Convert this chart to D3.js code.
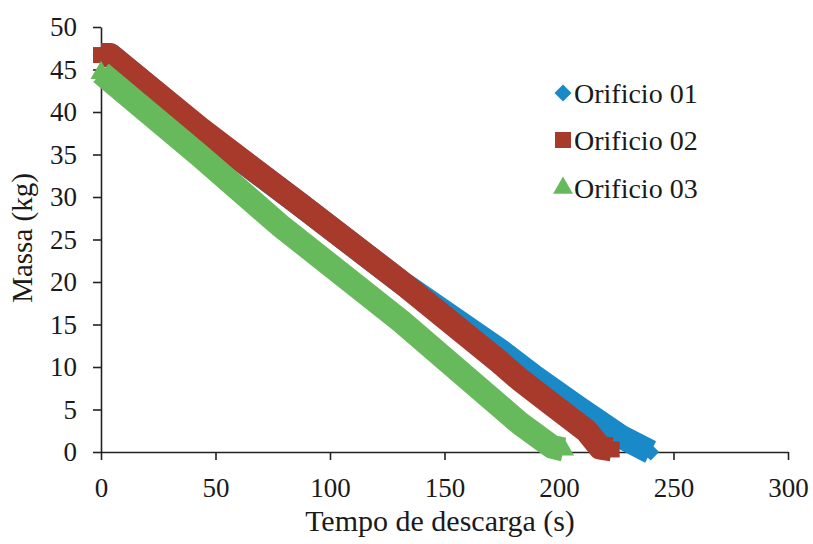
<!DOCTYPE html>
<html>
<head>
<meta charset="utf-8">
<script src="https://cdn.jsdelivr.net/npm/d3@7"></script>
<style>
  html, body { margin: 0; padding: 0; background: #ffffff; }
  svg { display: block; }
</style>
</head>
<body>
<svg id="chart" width="813" height="544"></svg>
<script>
// ---- data ----
const seriesNames = ["Orificio 01", "Orificio 02", "Orificio 03"];

const timeBlue  = [0, 4, 43, 87, 131, 174, 189, 208, 227, 240];
const massBlue  = [46.7, 46.7, 38.0, 29.1, 20.0, 12.0, 8.9, 5.3, 1.8, 0.0];

const timeRed   = [0, 4, 43, 87, 131, 174, 183, 197, 212, 218, 223];
const massRed   = [46.7, 46.7, 38.1, 29.1, 20.0, 10.6, 8.5, 5.6, 2.5, 0.5, 0.3];

const timeGreen = [0, 43, 78, 131, 183, 197, 202];
const massGreen = [44.6, 34.9, 26.7, 15.4, 3.35, 0.6, 0.3];

const xTicks = [0, 50, 100, 150, 200, 250, 300];
const yTicks = [0, 5, 10, 15, 20, 25, 30, 35, 40, 45, 50];

const xTitle = "Tempo de descarga (s)";
const yTitle = "Massa (kg)";

// ---- chart ----
const FONT = "Liberation Serif";
const TXT = "#1a1a1a";
const colors = ["#1A89C7", "#A83A2C", "#67BA5C"];

// square-ish diamond (Excel style)
const excelDiamond = {
  draw(ctx, size) {
    const r = Math.sqrt(size / 2);
    ctx.moveTo(0, -r); ctx.lineTo(r, 0); ctx.lineTo(0, r); ctx.lineTo(-r, 0); ctx.closePath();
  }
};
const symbols = [excelDiamond, d3.symbolSquare, d3.symbolTriangle];
const series = [
  { name: seriesNames[0], t: timeBlue,  m: massBlue,  color: colors[0], sym: symbols[0], size: 145 },
  { name: seriesNames[1], t: timeRed,   m: massRed,   color: colors[1], sym: symbols[1], size: 256 },
  { name: seriesNames[2], t: timeGreen, m: massGreen, color: colors[2], sym: symbols[2], size: 190 }
];

const svg = d3.select("#chart");
const x = d3.scaleLinear().domain([0, 300]).range([101, 788]);
const y = d3.scaleLinear().domain([0, 50]).range([452, 27]);

// axes
const xAxis = d3.axisBottom(x).tickValues(xTicks).tickSize(8).tickSizeOuter(0).tickPadding(18).tickFormat(d3.format("d"));
const yAxis = d3.axisLeft(y).tickValues(yTicks).tickSize(8).tickSizeOuter(0).tickPadding(16).tickFormat(d3.format("d"));

const gx = svg.append("g").attr("transform", `translate(0,${y(0)})`).call(xAxis);
const gy = svg.append("g").attr("transform", `translate(${x(0)},0)`).call(yAxis);
[gx, gy].forEach(g => {
  g.attr("font-family", FONT).attr("font-size", 27);
  g.select(".domain").attr("stroke", "#222").attr("stroke-width", 1.6);
  g.selectAll(".tick line").attr("stroke", "#222").attr("stroke-width", 1.6);
  g.selectAll(".tick text").attr("font-size", 27).attr("font-family", FONT).attr("fill", TXT);
});

// axis titles
svg.append("text")
  .attr("x", 440).attr("y", 531)
  .attr("text-anchor", "middle")
  .attr("font-family", FONT)
  .attr("font-size", 30)
  .attr("fill", TXT)
  .text(xTitle);

svg.append("text")
  .attr("transform", "translate(32,238) rotate(-90)")
  .attr("text-anchor", "middle")
  .attr("font-family", FONT)
  .attr("font-size", 29)
  .attr("fill", TXT)
  .text(yTitle);

// series: dense markers forming a thick band
const line = d3.line().x(d => x(d[0])).y(d => y(d[1]));
series.forEach(s => {
  const pts = s.t.map((t, i) => [t, s.m[i]]);
  const g = svg.append("g");
  g.append("path")
    .attr("d", line(pts))
    .attr("fill", "none")
    .attr("stroke", s.color)
    .attr("stroke-width", 24)
    .attr("stroke-linejoin", "round")
    .attr("stroke-linecap", "butt");
  g.selectAll("path.mk").data(pts).enter().append("path")
    .attr("class", "mk")
    .attr("transform", d => `translate(${x(d[0])},${y(d[1])})`)
    .attr("d", d3.symbol().type(s.sym).size(s.size))
    .attr("fill", s.color);
});

// legend
const legendY = [103, 150, 198];
const legendSize = [145, 256, 170];
series.forEach((s, i) => {
  svg.append("path")
    .attr("transform", `translate(563,${legendY[i] - 10})`)
    .attr("d", d3.symbol().type(s.sym).size(legendSize[i]))
    .attr("fill", s.color);
  svg.append("text")
    .attr("x", 574).attr("y", legendY[i])
    .attr("font-family", FONT)
    .attr("font-size", 28)
    .attr("fill", TXT)
    .text(s.name);
});
</script>
</body>
</html>
